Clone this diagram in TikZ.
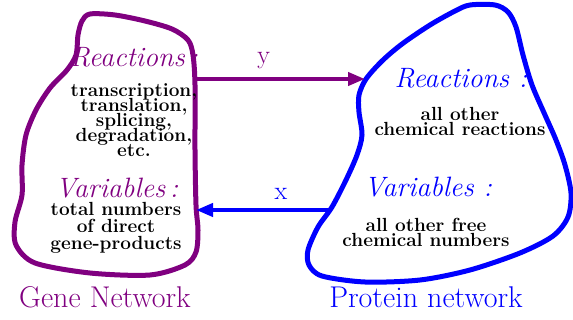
\documentclass[tikz,border=0pt]{standalone}
\usepackage{fontspec}
\usepackage{tikz}
\usetikzlibrary{arrows.meta}
\definecolor{genepurple}{RGB}{128,0,128}
\definecolor{protblue}{RGB}{0,0,255}
\newcommand{\tightskip}{\lineskiplimit=-20pt\relax}

\begin{document}
\begin{tikzpicture}[x=1pt, y=-1pt,
  blob/.style={line width=5pt, line join=round},
  link/.style={line width=4pt, -{Triangle[length=17pt,width=13pt]}},
  head/.style={anchor=base, font=\fontsize{28}{28}\selectfont\itshape},
  body/.style={anchor=base, align=center, font=\fontsize{19}{15}\selectfont\bfseries\tightskip},
  netname/.style={anchor=base, font=\fontsize{30}{30}\selectfont},
  every node/.style={inner sep=0pt}
]
\useasboundingbox (0,0) rectangle (573,320);

\draw[blob, genepurple] plot[smooth cycle] coordinates {(90,14) (115,15) (145,21) (172,29) (188,40) (193,55) (195,85) (195,150) (196,205) (198,230) (196,252) (185,265) (150,275) (90,273) (35,263) (16,245) (15,222) (22,195) (22,165) (26,135) (36,110) (50,88) (67,70) (76,55) (78,35) (82,21)};
\draw[blob, protblue] plot[smooth cycle] coordinates {(470,5) (495,5) (508,12) (516,27) (523,55) (532,85) (545,115) (556,140) (565,165) (571,193) (568,217) (553,236) (520,253) (470,270) (420,280) (365,282) (322,276) (309,265) (308,250) (318,227) (332,207) (346,180) (357,155) (362,135) (359,112) (359,95) (366,79) (382,61) (402,44) (430,25) (455,11)};

\node[head, genepurple] (genreact) at (134,67) {Reactions\,:};
\node[body] (genreactlist) at (134,157) {transcription,\\translation,\\splicing,\\degradation,\\etc.};
\node[head, genepurple] (genvar) at (117,198) {Variables\,:};
\node[body, font=\fontsize{19}{17}\selectfont\bfseries\tightskip] (genvarlist) at (116,250) {total numbers\\of direct\\gene-products};
\node[netname, genepurple] (genename) at (105,308) {Gene Network};

\node[head, protblue] (protreact) at (461,88) {Reactions :};
\node[body] (protreactlist) at (460,136) {all other\\chemical reactions};
\node[head, protblue] (protvar) at (428,197) {Variables :};
\node[body] (protvarlist) at (426,247) {all other free\\chemical numbers};
\node[netname, protblue] (protname) at (426,308) {Protein network};

\coordinate (genout) at (196,79);
\coordinate (protin) at (365,79);
\coordinate (protout) at (331,210);
\coordinate (genin) at (196,210);

\draw[link, genepurple] (genout) -- (protin) node[pos=0.4, above=8pt, font=\fontsize{26}{26}\selectfont] (ylab) {y};
\draw[link, protblue] (protout) -- (genin) node[pos=0.37, above=8pt, font=\fontsize{26}{26}\selectfont] (xlab) {x};

\end{tikzpicture}
\end{document}
